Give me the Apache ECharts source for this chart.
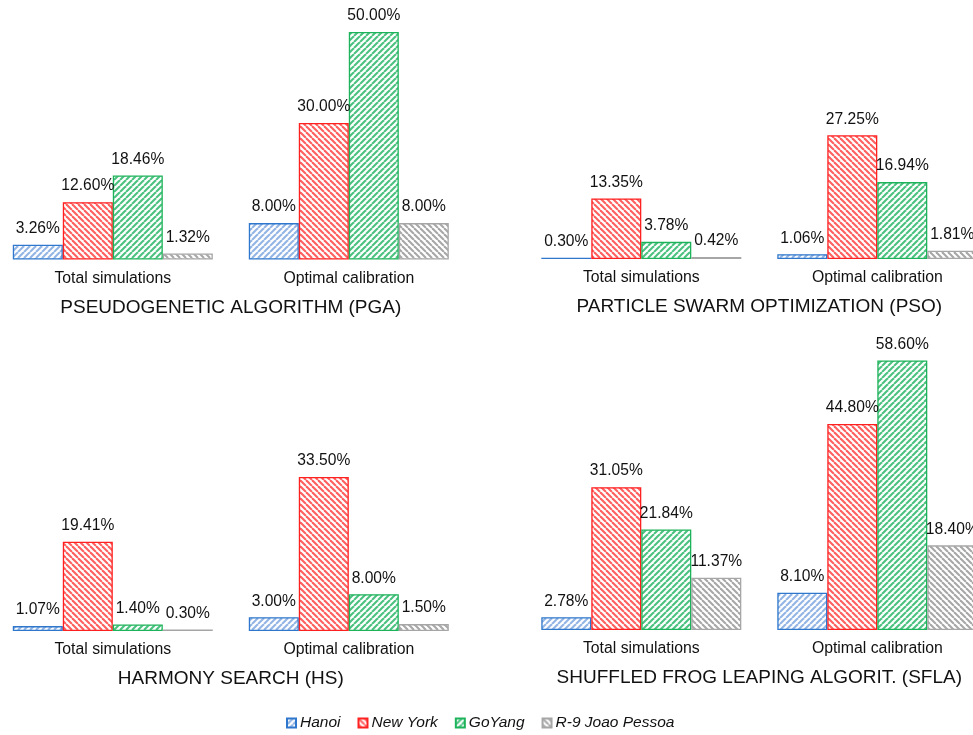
<!DOCTYPE html>
<html>
<head>
<meta charset="utf-8">
<script src="https://cdn.jsdelivr.net/npm/echarts@6/dist/echarts.min.js"></script>
<style>
  html, body { margin: 0; padding: 0; background: #fff; }
  #chart { width: 973px; height: 735px; }
</style>
</head>
<body>
<div id="chart"></div>
<script>
// categories / series names
var categories = ['Total simulations', 'Optimal calibration']
var networks = ['Hanoi', 'New York', 'GoYang', 'R-9 Joao Pessoa']
var panelTitles = [
  'PSEUDOGENETIC ALGORITHM (PGA)',
  'PARTICLE SWARM OPTIMIZATION (PSO)',
  'HARMONY SEARCH (HS)',
  'SHUFFLED FROG LEAPING ALGORIT. (SFLA)'
]

// values in %, [total simulations, optimal calibration] per network
var pgaHanoi = [3.26, 8.00]
var pgaNewYork = [12.60, 30.00]
var pgaGoYang = [18.46, 50.00]
var pgaR9 = [1.32, 8.00]

var psoHanoi = [0.30, 1.06]
var psoNewYork = [13.35, 27.25]
var psoGoYang = [3.78, 16.94]
var psoR9 = [0.42, 1.81]

var hsHanoi = [1.07, 3.00]
var hsNewYork = [19.41, 33.50]
var hsGoYang = [1.40, 8.00]
var hsR9 = [0.30, 1.50]

var sflaHanoi = [2.78, 8.10]
var sflaNewYork = [31.05, 44.80]
var sflaGoYang = [21.84, 58.60]
var sflaR9 = [11.37, 18.40]

var panelData = [
  [pgaHanoi, pgaNewYork, pgaGoYang, pgaR9],
  [psoHanoi, psoNewYork, psoGoYang, psoR9],
  [hsHanoi, hsNewYork, hsGoYang, hsR9],
  [sflaHanoi, sflaNewYork, sflaGoYang, sflaR9]
]
var panelMax = [50, 50, 50, 60]

// hatch pattern for the bar fill
function hatch (color, up) {
  var s = 6
  var c = document.createElement('canvas')
  c.width = s
  c.height = s
  var ctx = c.getContext('2d')
  ctx.fillStyle = '#fff'
  ctx.fillRect(0, 0, s, s)
  ctx.strokeStyle = color
  ctx.lineWidth = 2.1
  for (var k = -1; k <= 1; k++) {
    ctx.beginPath()
    if (up) {
      ctx.moveTo(k * s, s)
      ctx.lineTo(k * s + s, 0)
    } else {
      ctx.moveTo(k * s, 0)
      ctx.lineTo(k * s + s, s)
    }
    ctx.stroke()
  }
  return { image: c, repeat: 'repeat' }
}

var styles = [
  { fill: hatch('#93b5e4', true), border: '#2e77cc' },
  { fill: hatch('#ff6060', false), border: '#ff2020' },
  { fill: hatch('#4cc280', true), border: '#1db35a' },
  { fill: hatch('#a8a8a8', false), border: '#a6a6a6' }
]

var font = 'Liberation Sans, Arial, sans-serif'

var grids = [
  { left: -5.2, top: 32, width: 472, height: 227.5 },
  { left: 523.3, top: 32, width: 472, height: 227 },
  { left: -5.2, top: 401, width: 472, height: 230 },
  { left: 523.3, top: 354, width: 472, height: 276 }
].map(function (g) {
  g.outerBoundsMode = 'none'
  g.containLabel = false
  return g
})

var xAxes = []
var yAxes = []
var series = []
panelData.forEach(function (rows, p) {
  xAxes.push({
    type: 'category',
    gridIndex: p,
    data: categories,
    axisLine: { show: false },
    axisTick: { show: false },
    axisLabel: { margin: 11, color: '#111', fontSize: 15.8, fontFamily: font },
    name: panelTitles[p],
    nameLocation: 'middle',
    nameGap: 38.5,
    nameTextStyle: { color: '#111', fontSize: 19, fontFamily: font }
  })
  yAxes.push({
    type: 'value',
    gridIndex: p,
    min: 0,
    max: panelMax[p],
    show: false,
    splitLine: { show: false }
  })
  rows.forEach(function (vals, i) {
    series.push({
      name: networks[i],
      type: 'bar',
      xAxisIndex: p,
      yAxisIndex: p,
      barWidth: 50,
      barGap: '0%',
      data: vals,
      itemStyle: {
        color: styles[i].fill,
        borderColor: styles[i].border,
        borderWidth: 1.3
      },
      label: {
        show: true,
        position: 'top',
        distance: 8,
        color: '#111',
        fontSize: 15.6,
        fontFamily: font,
        formatter: function (d) { return d.value.toFixed(2) + '%' }
      }
    })
  })
})

var chart = echarts.init(document.getElementById('chart'))
chart.setOption({
  animation: false,
  backgroundColor: '#fff',
  legend: {
    data: networks,
    left: 286,
    top: 715,
    padding: 0,
    itemWidth: 9,
    itemHeight: 9,
    itemGap: 17,
    icon: 'rect',
    textStyle: { color: '#111', fontSize: 15.5, fontStyle: 'italic', fontFamily: font, padding: [0, 0, 0, -1] }
  },
  grid: grids,
  xAxis: xAxes,
  yAxis: yAxes,
  series: series
})
</script>
</body>
</html>
